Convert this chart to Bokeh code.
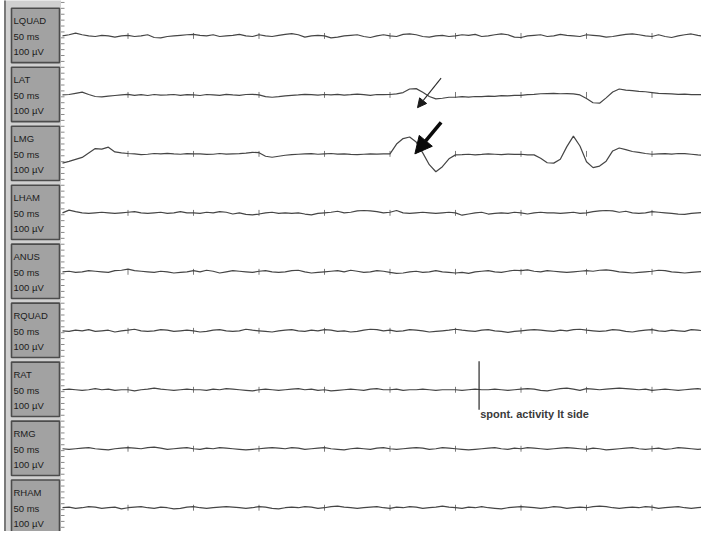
import numpy as np
from bokeh.plotting import figure
from bokeh.models import ColumnDataSource, Range1d, Arrow, NormalHead
from bokeh.core.properties import value
from bokeh.embed import file_html
from bokeh.resources import INLINE

# ---------------- data ----------------
channels = ["LQUAD", "LAT", "LMG", "LHAM", "ANUS", "RQUAD", "RAT", "RMG", "RHAM"]
time_label = "50 ms"
amp_label = "100 µV"
sample_ms = 5          # sampling step of the lists below
tick_ms = [50, 100, 150, 200, 250, 300, 350, 400, 450, 500]
annotation_text = "spont. activity lt side"

# amplitudes in µV, one value every 5 ms from 0 to 500 ms
LQUAD = [0,6,14,6,0,-3,3,0,-6,0, 3,-3,0,6,-8,-10,-3,0,3,6, 8,3,0,6,-3,0,3,8,0,-3,
         6,0,-3,3,8,12,6,-6,0,3, 0,-10,-6,0,3,6,-3,-8,0,6, 0,-3,8,10,6,-3,-6,0,3,-3,
         0,6,3,8,-3,0,6,10,6,-6, -8,0,3,6,-3,0,8,3,0,-3, 6,3,0,-6,-3,3,8,10,6,0,
         -3,6,-3,-8,0,6,10,3,-3,6, 8]
LAT = [0,2,8,14,2,-8,-10,-6,-3,0, 3,-2,1,-3,2,-1,0,2,-2,1, 0,-3,2,0,-2,3,0,-2,2,3,
       0,-9,-12,-9,-5,-2,0,3,1,-1, 2,0,3,-1,1,4,1,-2,2,1, 2,5,12,30,32,14,-8,-20,-17,-12,
       -12,-9,-11,-8,-9,-6,-7,-4,-5,-2, -2,1,3,6,7,8,6,7,5,0, -18,-40,-42,-15,15,30,24,22,18,16,
       12,8,7,5,3,4,1,2,0,2, 1]
LMG = [-47,-38,-28,-18,5,27,24,34,10,5, 2,0,-4,-2,2,0,3,0,-2,1, 0,0,-3,-2,2,-1,0,1,4,8,
       6,-12,-17,-12,-7,-4,-2,0,1,-2, 0,2,-1,0,-3,-4,-2,0,-1,0, 0,50,78,86,60,5,-55,-91,-65,-25,
       -5,-4,-2,-5,-3,0,-2,-4,-1,-3, -2,-5,-5,-22,-45,-47,-27,37,90,40, -40,-70,-62,-37,15,30,22,12,8,2,
       -2,0,1,-1,2,1,-2,-5,-7,-3, -2]
LHAM = [0,14,6,0,-3,0,3,0,-3,0, 3,6,0,-3,0,3,-3,0,6,0, 0,-3,3,0,6,3,-6,0,-8,-10,
        -6,0,3,-3,0,-3,0,-6,-10,-3, 0,3,8,0,3,10,12,10,6,0, 3,12,0,-3,0,3,0,-3,0,3,
        0,-12,-6,0,3,-6,-3,0,-3,3, 0,-6,0,3,0,0,-3,0,3,-3, 0,6,10,12,10,3,8,0,-3,0,
        6,3,0,-3,-6,-8,-3,0,3,0, 0]
ANUS = [0,3,-3,0,6,3,0,-3,6,8, 14,6,3,0,-3,3,0,-6,-3,0, 6,0,8,3,-6,0,6,3,0,-3,
        3,6,0,-3,0,6,8,0,-6,-3, 0,3,6,0,8,3,-3,0,6,3, -3,-8,-6,0,3,-3,0,6,0,-3,
        -6,-3,-8,0,3,6,0,-3,3,8, 6,10,3,0,6,3,0,-3,0,3, 6,3,8,10,6,0,-3,-6,-3,0,
        3,8,6,0,-3,-6,-3,0,3,6, 0]
RQUAD = [0,-3,3,0,6,-3,0,3,-6,0, 3,8,0,-3,0,6,3,-3,0,3, 0,-6,-3,3,6,0,-3,0,8,3,
         0,-3,-6,0,3,6,0,-3,3,0, 6,3,-3,0,-6,-3,3,8,6,0, 3,-3,0,6,3,0,-6,-3,0,3,
         8,3,0,-3,3,6,0,-3,-8,-3, 0,3,6,3,0,-3,3,0,6,8, 3,0,-3,0,6,3,-3,-6,0,3,
         6,0,-3,3,0,-3,6,3,0,-3, 0]
RAT = [0,3,0,-3,0,6,0,3,-3,0, 0,-6,0,3,8,3,0,-3,0,3, 0,0,-3,3,0,6,3,0,-3,-6,
       0,3,0,-3,0,3,6,0,3,-3, 0,-6,-3,0,3,0,-3,3,6,0, 0,3,-3,0,0,3,0,-3,0,0,
       0,-3,0,3,0,0,3,0,-3,0, 3,6,3,-3,-6,0,6,8,3,-3, 6,3,0,3,6,8,6,3,0,3,
       -3,0,3,0,-3,0,3,6,0,-3, 0]
RMG = [0,-3,0,3,6,0,-3,-6,0,3, 6,3,0,6,8,3,-3,0,3,6, 0,-3,3,0,6,3,0,-3,-6,-3,
       0,3,6,3,0,6,3,-3,0,3, 6,0,-3,-6,0,3,0,-3,3,6, 0,-3,0,3,6,3,-3,0,6,3,
       0,-3,-6,-3,0,3,6,0,-3,3, 0,6,3,0,-3,0,3,6,3,0, -3,3,0,-6,-3,0,3,6,0,-3,
       0,3,-3,0,6,3,0,-3,0,3, 0]
RHAM = [0,3,-3,0,6,3,-3,0,3,-6, 0,3,6,0,-3,3,0,-6,-3,3, 6,0,-3,0,3,6,3,0,-3,0,
        6,3,-3,-6,0,3,0,6,3,-3, 0,6,8,3,0,-3,0,3,6,0, -3,3,0,6,3,-3,0,3,8,3,
        0,-3,3,0,6,0,-3,-6,0,3, 6,3,0,-3,0,6,3,-3,0,3, 0,6,8,6,0,-3,0,3,0,6,
        3,-3,0,3,6,0,-3,0,3,0, 0]
traces = [LQUAD, LAT, LMG, LHAM, ANUS, RQUAD, RAT, RMG, RHAM]

# annotation anchors (ms, µV relative to the channel baseline)
marker_channel = "RAT"
marker_t = 318
marker_top_uv = 145
marker_bottom_uv = -102
text_uv = -123

# ---------------- layout constants ----------------
ROW_UV = 300.0                    # vertical spacing between channels
PX_PER_MS = 655 / 500.0           # in reference pixels
PX_PER_UV = 60.75 / ROW_UV
X0_PX, Y0_PX = 62, 36.5           # reference pixel of t=0 / first baseline
W, H = 701, 531

def xr(px):   # reference x pixel -> ms
    return (px - X0_PX) / PX_PER_MS

def yr(py):   # reference y pixel -> µV
    return (Y0_PX - py) / PX_PER_UV

def px_ms(px):
    return px / PX_PER_MS

def px_uv(px):
    return px / PX_PER_UV

p = figure(width=W, height=H, output_backend="svg", toolbar_location=None,
           x_range=Range1d(xr(0), xr(701)), y_range=Range1d(yr(547), yr(0)),
           x_axis_location=None, y_axis_location=None, min_border=0)
p.xgrid.visible = False
p.ygrid.visible = False
p.outline_line_color = None
p.background_fill_color = "white"
p.border_fill_color = "white"

base = [-i * ROW_UV for i in range(len(channels))]

# ---- left label panel ----
p.quad(left=[xr(3.5)], right=[xr(60.5)], bottom=[yr(560)], top=[yr(-10)],
       fill_color="#d0d0d0", line_color=None)
p.segment(x0=[xr(4.5)], x1=[xr(4.5)], y0=[yr(560)], y1=[yr(-10)],
          line_color="#5e5e5e", line_width=1.5)
p.quad(left=[xr(11)] * len(base), right=[xr(59)] * len(base),
       bottom=[b - px_uv(27.5) for b in base], top=[b + px_uv(28.5) for b in base],
       fill_color="#a2a2a2", line_color="#4c4c4c", line_width=1.6)

lab = ColumnDataSource(dict(
    x=[xr(13)] * (3 * len(channels)),
    y=[b + px_uv(dy) for b in base for dy in (15.5, -0.5, -16.5)],
    text=[t for c in channels for t in (c, time_label, amp_label)],
))
p.text(x="x", y="y", text="text", source=lab, text_font=value("Liberation Sans"),
       text_font_size="9.5px", text_color="#1c1c1c", text_baseline="middle",
       text_align="left")

# ruler ticks at the panel edge
ruler_y = list(np.arange(yr(2), yr(547), -px_uv(6.075)))
p.segment(x0=[xr(60.5)] * len(ruler_y), x1=[xr(64)] * len(ruler_y),
          y0=ruler_y, y1=ruler_y, line_color="#8a8a8a", line_width=1)

# ---- time ticks on each trace ----
tx, ty0, ty1 = [], [], []
for b in base:
    for t in tick_ms:
        tx.append(t)
        ty0.append(b - 15)
        ty1.append(b + 15)
p.segment(x0=tx, x1=tx, y0=ty0, y1=ty1, line_color="#7a7a7a", line_width=1)

# ---- traces ----
for b, vals in zip(base, traces):
    t = np.arange(len(vals)) * sample_ms
    p.line(t, np.array(vals, dtype=float) + b, line_color="#454545", line_width=1.2)

# ---- arrows ----
lat_b = base[channels.index("LAT")]
lmg_b = base[channels.index("LMG")]
p.add_layout(Arrow(end=NormalHead(size=9, fill_color="#1a1a1a", line_color="#1a1a1a"),
                   x_start=289, y_start=lat_b + 85, x_end=271, y_end=lat_b - 65,
                   line_color="#2a2a2a", line_width=1.1))
p.add_layout(Arrow(end=NormalHead(size=17, fill_color="#0a0a0a", line_color="#0a0a0a"),
                   x_start=289, y_start=lmg_b + 160, x_end=269, y_end=lmg_b - 0,
                   line_color="#0a0a0a", line_width=3.6))

# ---- marker line and text in RAT ----
mb = base[channels.index(marker_channel)]
p.segment(x0=[marker_t], x1=[marker_t], y0=[mb + marker_bottom_uv], y1=[mb + marker_top_uv],
          line_color="#2a2a2a", line_width=1.2)
p.text(x=[marker_t + 0.8], y=[mb + text_uv], text=[annotation_text],
       text_font=value("Liberation Sans"), text_font_style="bold",
       text_font_size="11px", text_color="#3a3a3a", text_baseline="middle",
       text_align="left")

open("out.html", "w").write(file_html(p, INLINE))
